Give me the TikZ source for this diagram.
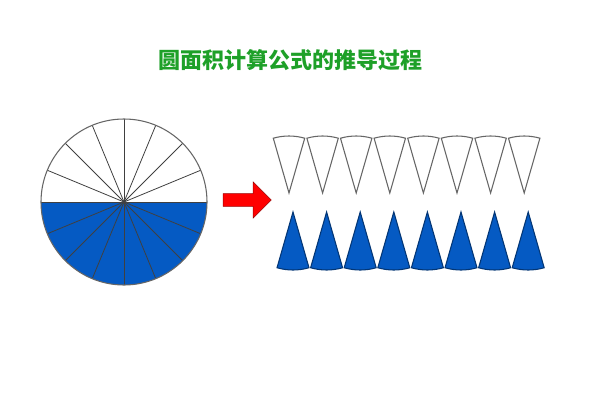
\documentclass[tikz,border=0pt]{standalone}
\usepackage{fontspec}
\newfontfamily\cjk{Noto Sans CJK SC}
\usetikzlibrary{shapes.arrows}
\definecolor{secblue}{RGB}{5,90,195}
\definecolor{titlegreen}{RGB}{30,160,40}
\tikzset{
	sector/.style={draw=gray!80!black, line width=0.8pt},
	bluesector/.style={sector, fill=secblue, draw=secblue!60!black},
}
\begin{document}
\begin{tikzpicture}[x=0.75pt, y=-0.75pt]
		\useasboundingbox (0,0) rectangle (600,400);
		\node[font=\cjk\bfseries\fontsize{16.5}{18}\selectfont, text=titlegreen] (title) at (290,60) {圆面积计算公式的推导过程};
		% circle
		\coordinate (c) at (124,202);
		\fill[secblue] (c) ++(0:83) arc[start angle=0, end angle=180, radius=83] -- cycle;
		\foreach \a in {0,22.5,...,337.5}
			\draw[sector, draw=black!75, line width=0.6pt] (c) -- ++(\a:83);
		\draw[sector] (c) circle[radius=83];
		% arrow
		\node[single arrow, fill=red, draw=red!60!black, minimum height=36pt, minimum width=27pt, single arrow head extend=4pt, inner sep=2pt] (arr) at (244,200) {};
		% top row
		\foreach \i in {0,...,7} {
			\coordinate (t\i) at ({289+33.6*\i},193);
			\draw[sector, fill=white] (t\i) -- ++(254:57) arc[start angle=254, end angle=286, radius=57] -- cycle;
		}
		% bottom row
		\foreach \i in {0,...,7} {
			\coordinate (b\i) at ({293+33.6*\i},212);
			\draw[bluesector] (b\i) -- ++(74:58) arc[start angle=74, end angle=106, radius=58] -- cycle;
		}
	\end{tikzpicture}
\end{document}
